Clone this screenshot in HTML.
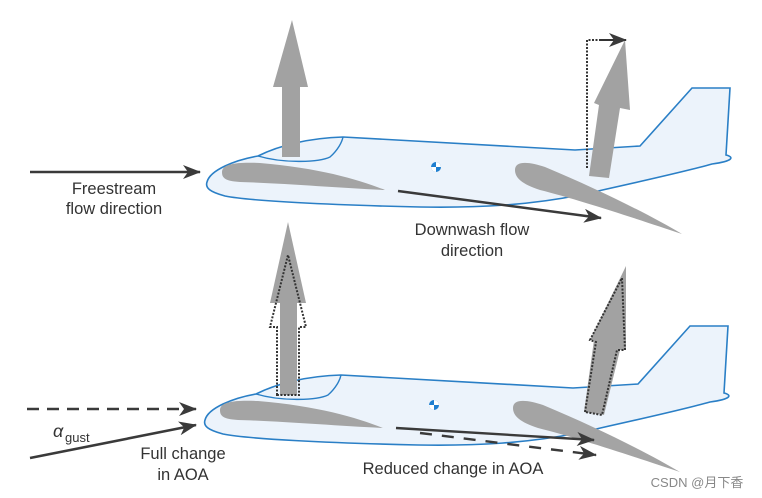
<!DOCTYPE html>
<html><head><meta charset="utf-8"><style>
html,body{margin:0;padding:0;background:#fff;}
svg{display:block;}
text{font-family:"Liberation Sans",sans-serif;fill:#333;}
</style></head><body>
<svg width="762" height="498" viewBox="0 0 762 498" xmlns="http://www.w3.org/2000/svg">
<defs>
<marker id="ah" markerWidth="18" markerHeight="14" refX="17" refY="7" orient="auto" markerUnits="userSpaceOnUse"><path d="M0,0 L18,7 L0,14 L5,7 Z" fill="#3a3a3a"/></marker>
<g id="plane">
<path d="M207,182 C210,170 235,160 258,156 C280,145 310,138 343,137 L575,150 L640,146 L692,88 L730,88 L726,155 C734,157 734,161 712,164 C680,173 620,186 580,195 C530,205 480,208 420,207 C330,205 250,201 225,196 C210,192 205,188 207,182 Z" fill="#ecf3fb" stroke="#2a7fc6" stroke-width="1.6"/>
<path d="M258,156 C285,164 320,162 330,157 C338,150 342,142 343,137" fill="none" stroke="#2a7fc6" stroke-width="1.4"/>
<path d="M222,172 C222,163 240,162 260,163 C320,168 360,180 385,190 C340,188 280,183 240,182 C225,181 222,178 222,172 Z" fill="#a4a4a4"/>
<path d="M515,170 C515,160 530,162 545,167 C600,190 650,215 682,234 C640,220 580,200 540,190 C522,184 515,178 515,170 Z" fill="#a4a4a4"/>
<circle cx="436" cy="167" r="5" fill="#1f7fd0"/>
<path d="M436,162 A5,5 0 0 1 441,167 L436,167 Z M436,167 L431,167 A5,5 0 0 0 436,172 Z" fill="#fff"/>
</g>
</defs>

<!-- TOP -->
<use href="#plane"/>
<path d="M282,157 L282,87 L273,87 L292,20 L308,87 L300,87 L300,157 Z" fill="#a2a2a2"/>
<path d="M589,176 L599,105 L594,103 L625,40 L630,110 L620,108 L609,178 Z" fill="#a2a2a2"/>
<path d="M587,168 L587,40 L612,40" fill="none" stroke="#333" stroke-width="2" stroke-dasharray="2,1.5"/>
<line x1="600" y1="40" x2="626" y2="40" stroke="#333" stroke-width="2" marker-end="url(#ah)"/>
<line x1="30" y1="172" x2="200" y2="172" stroke="#3a3a3a" stroke-width="2.4" marker-end="url(#ah)"/>
<text x="114" y="194" font-size="16.5" text-anchor="middle">Freestream</text>
<text x="114" y="214" font-size="16.5" text-anchor="middle">flow direction</text>
<line x1="398" y1="191" x2="601" y2="218" stroke="#3a3a3a" stroke-width="2.4" marker-end="url(#ah)"/>
<text x="472" y="235" font-size="16.5" text-anchor="middle">Downwash flow</text>
<text x="472" y="256" font-size="16.5" text-anchor="middle">direction</text>

<!-- BOTTOM -->
<use href="#plane" transform="translate(-2,238)"/>
<path d="M280,395 L280,303 L270,303 L288,222 L306,303 L297,303 L297,395 Z" fill="#a2a2a2"/>
<path d="M277,395 L277,327 L270,327 L288,255 L306,327 L299,327 L299,395 Z" fill="none" stroke="#333" stroke-width="2" stroke-dasharray="2,1.5"/>
<path d="M584,412 L594,340 L590,340 L626,266 L626,350 L620,350 L604,415 Z" fill="#a2a2a2"/>
<path d="M585,412 L596,342 L590,340 L622,278 L625,350 L617,350 L602,415 Z" fill="none" stroke="#333" stroke-width="2" stroke-dasharray="2,1.5"/>
<line x1="27" y1="409" x2="196" y2="409" stroke="#3a3a3a" stroke-width="2.6" stroke-dasharray="12,8" marker-end="url(#ah)"/>
<line x1="30" y1="458" x2="196" y2="425" stroke="#3a3a3a" stroke-width="2.6" marker-end="url(#ah)"/>
<text x="53" y="437" font-size="18" font-style="italic" font-family="Liberation Serif">α</text>
<text x="65" y="442" font-size="13">gust</text>
<text x="183" y="459" font-size="16.5" text-anchor="middle">Full change</text>
<text x="183" y="480" font-size="16.5" text-anchor="middle">in AOA</text>
<line x1="396" y1="428" x2="594" y2="440" stroke="#3a3a3a" stroke-width="2.4" marker-end="url(#ah)"/>
<line x1="420" y1="433" x2="596" y2="455" stroke="#3a3a3a" stroke-width="2.4" stroke-dasharray="12,10" marker-end="url(#ah)"/>
<text x="453" y="474" font-size="16.5" text-anchor="middle">Reduced change in AOA</text>
<text x="697" y="487" font-size="13" text-anchor="middle" style="font-family:'Liberation Sans','Noto Sans CJK SC',sans-serif;fill:#888">CSDN @月下香</text>
</svg>
</body></html>
